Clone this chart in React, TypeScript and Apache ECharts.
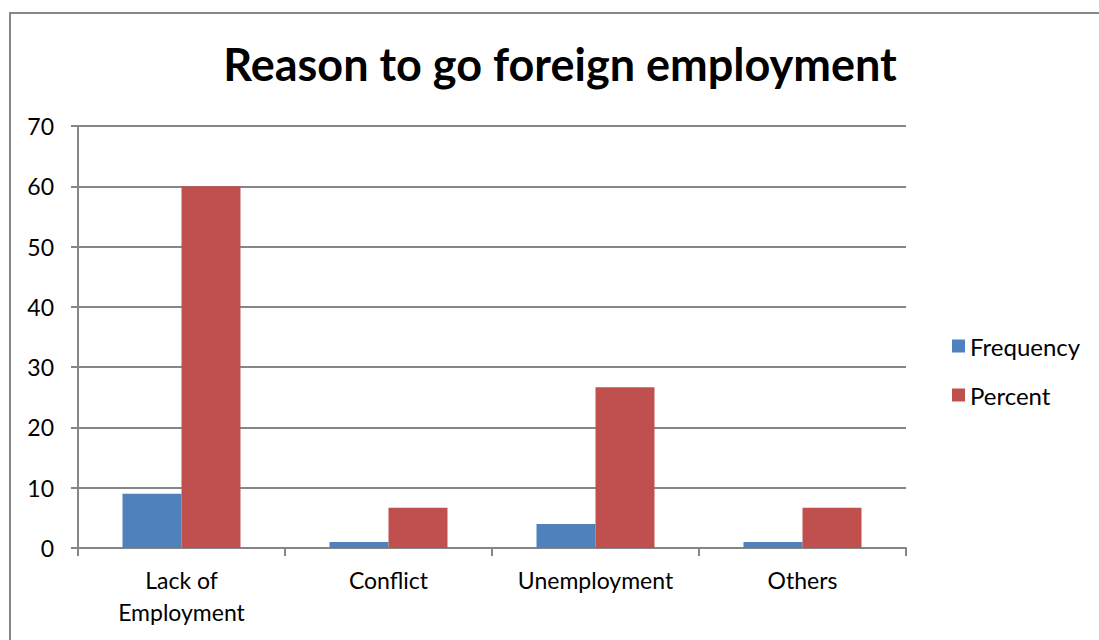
import React, { useEffect, useRef } from "react";
import * as echarts from "echarts";

const categories = ["Lack of\nEmployment", "Conflict", "Unemployment", "Others"];
const frequency = [9, 1, 4, 1];
const percent = [60, 6.67, 26.67, 6.67];
const yTicks = { min: 0, max: 70, interval: 10 };
const titleText = "Reason to go foreign employment";

export default function App() {
  const ref = useRef<HTMLDivElement>(null);
  useEffect(() => {
    const chart = echarts.init(ref.current!, null, { renderer: "svg" });
    const font = "Lato, 'Open Sans', sans-serif";
    chart.setOption({
      animation: false,
      backgroundColor: "#ffffff",
      title: {
        text: titleText,
        left: 555,
        textAlign: "center",
        top: 36,
        textStyle: { fontFamily: font, fontWeight: "bold", fontSize: 45, color: "#000" },
      },
      graphic: [
        {
          type: "rect",
          shape: { x: 10, y: 13, width: 1200, height: 700 },
          style: { fill: "none", stroke: "#868686", lineWidth: 2 },
          silent: true,
        },
      ],
      legend: {
        orient: "vertical",
        left: 947,
        top: 329,
        itemWidth: 13,
        itemHeight: 13,
        itemGap: 25,
        icon: "rect",
        textStyle: { fontFamily: font, fontSize: 24, lineHeight: 24, color: "#000" },
        data: ["Frequency", "Percent"],
      },
      grid: { left: 78, top: 126, right: 193, bottom: 92, containLabel: false },
      xAxis: {
        type: "category",
        data: categories,
        axisLine: { lineStyle: { color: "#868686", width: 2 } },
        axisTick: { show: true, length: 8, lineStyle: { color: "#868686", width: 2 } },
        axisLabel: {
          fontFamily: font,
          fontSize: 23,
          color: "#000",
          margin: 16,
          lineHeight: 32,
          interval: 0,
        },
      },
      yAxis: {
        type: "value",
        min: yTicks.min,
        max: yTicks.max,
        interval: yTicks.interval,
        axisLine: { show: true, lineStyle: { color: "#868686", width: 2 } },
        axisTick: { show: true, length: 7, lineStyle: { color: "#868686", width: 2 } },
        splitLine: { lineStyle: { color: "#868686", width: 2 } },
        axisLabel: { fontFamily: font, fontSize: 23, color: "#000", margin: 24 },
      },
      series: [
        {
          name: "Frequency",
          type: "bar",
          data: frequency,
          barGap: "0%",
          barCategoryGap: "43%",
          itemStyle: { color: "#4F81BD" },
        },
        {
          name: "Percent",
          type: "bar",
          data: percent,
          barGap: "0%",
          barCategoryGap: "43%",
          itemStyle: { color: "#C0504D" },
        },
      ],
    });
    return () => chart.dispose();
  }, []);
  return (
    <div
      ref={ref}
      style={{ position: "fixed", left: 0, top: 0, width: 1099, height: 640 }}
    />
  );
}
